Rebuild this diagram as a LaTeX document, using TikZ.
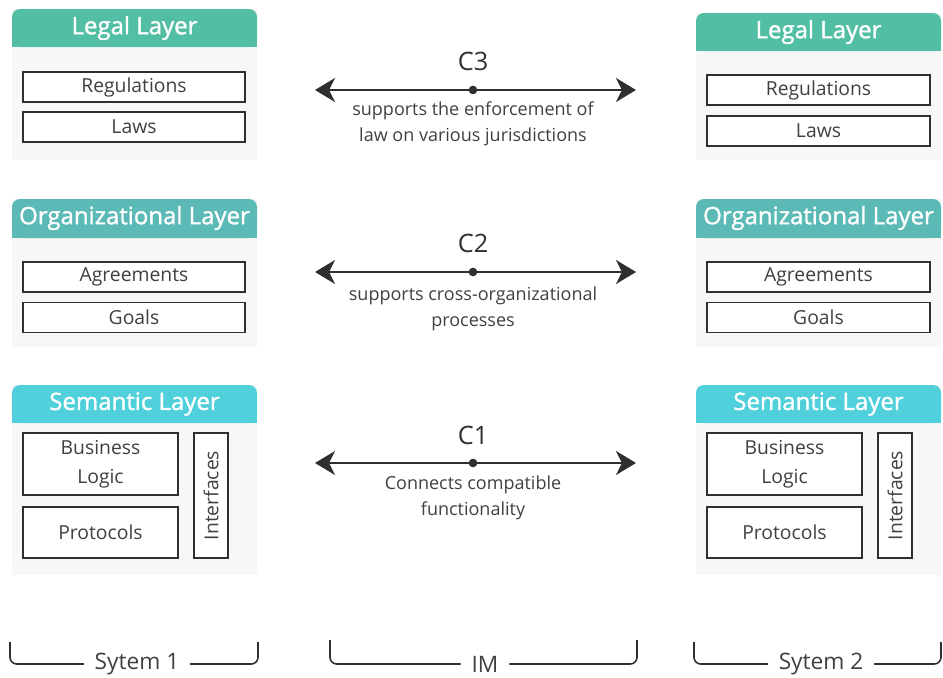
\documentclass[tikz,border=0pt]{standalone}
\usepackage{fontspec}
\setmainfont{Open Sans}
\newfontfamily\headfont{Open Sans}[FakeBold=1.3]
\usetikzlibrary{arrows.meta}

\definecolor{legalc}{HTML}{52BFA4}
\definecolor{orgc}{HTML}{5BBAB6}
\definecolor{semc}{HTML}{50D0DB}
\definecolor{panelc}{HTML}{F7F7F7}
\definecolor{inkc}{HTML}{2F2F2F}
\definecolor{textc}{HTML}{404040}

\tikzset{
	panel/.style={fill=panelc},
	title/.style={text=white, font=\headfont\fontsize{18}{20}\selectfont, inner sep=0pt},
	item/.style={draw=inkc, line width=1.2pt, fill=white, text=textc,
		font=\fontsize{14.5}{18}\selectfont, inner sep=0pt, align=center},
	link/.style={draw=inkc, line width=1.6pt,
		{Stealth[length=15pt,width=18pt,inset=4.5pt]}-{Stealth[length=15pt,width=18pt,inset=4.5pt]}},
	dot/.style={circle, fill=inkc, inner sep=0pt, minimum size=6.5pt},
	clabel/.style={text=inkc, font=\fontsize{19}{22}\selectfont},
	desc/.style={text=textc, font=\fontsize{13.5}{19.5}\selectfont, align=center, inner sep=0pt},
	brace/.style={draw=inkc, line width=1.2pt, rounded corners=5pt},
	sysname/.style={text=textc, font=\fontsize{17}{18}\selectfont, inner xsep=8pt}
}

\begin{document}
\begin{tikzpicture}[x=0.75pt, y=-0.75pt]
	\useasboundingbox (0,0) rectangle (943,678);
	
	% left system
	\fill[panel] (12,9) rectangle (257,160);
	\fill[legalc, rounded corners=6pt] (12,9) rectangle (257,47);
	\fill[legalc] (12,30) rectangle (257,47);
	\node[title] (legal1) at (134.5,28) {Legal Layer};
	\node[item, minimum width=222*0.75pt, minimum height=30*0.75pt] (reg1) at (134,87) {Regulations};
	\node[item, minimum width=222*0.75pt, minimum height=30*0.75pt] (laws1) at (134,127) {Laws};
	
	\fill[panel] (12,199) rectangle (257,347);
	\fill[orgc, rounded corners=6pt] (12,199) rectangle (257,238);
	\fill[orgc] (12,220) rectangle (257,238);
	\node[title] (org1) at (134.5,218) {Organizational Layer};
	\node[item, minimum width=222*0.75pt, minimum height=30*0.75pt] (agr1) at (134,277) {Agreements};
	\node[item, minimum width=222*0.75pt, minimum height=30*0.75pt] (goals1) at (134,317.5) {Goals};
	
	\fill[panel] (12,385) rectangle (257,575);
	\fill[semc, rounded corners=6pt] (12,385) rectangle (257,423);
	\fill[semc] (12,405) rectangle (257,423);
	\node[title] (sem1) at (134.5,404) {Semantic Layer};
	\node[item, minimum width=155*0.75pt, minimum height=62*0.75pt] (logic1) at (100.5,464) {Business\\[4pt]Logic};
	\node[item, minimum width=155*0.75pt, minimum height=51*0.75pt] (prot1) at (100.5,532.5) {Protocols};
	\node[item, minimum width=34*0.75pt, minimum height=125*0.75pt] (int1) at (211,495.5) {};
	\node[text=textc, font=\fontsize{14.5}{18}\selectfont, rotate=90] at (int1.center) {Interfaces};
	
	% right system
	\fill[panel] (696,13) rectangle (941,160);
	\fill[legalc, rounded corners=6pt] (696,13) rectangle (941,51);
	\fill[legalc] (696,34) rectangle (941,51);
	\node[title] (legal2) at (818.5,32) {Legal Layer};
	\node[item, minimum width=223*0.75pt, minimum height=30*0.75pt] (reg2) at (818.5,90) {Regulations};
	\node[item, minimum width=223*0.75pt, minimum height=30*0.75pt] (laws2) at (818.5,131) {Laws};
	
	\fill[panel] (696,199) rectangle (941,347);
	\fill[orgc, rounded corners=6pt] (696,199) rectangle (941,238);
	\fill[orgc] (696,220) rectangle (941,238);
	\node[title] (org2) at (818.5,218) {Organizational Layer};
	\node[item, minimum width=223*0.75pt, minimum height=30*0.75pt] (agr2) at (818.5,277) {Agreements};
	\node[item, minimum width=223*0.75pt, minimum height=30*0.75pt] (goals2) at (818.5,317.5) {Goals};
	
	\fill[panel] (696,385) rectangle (941,575);
	\fill[semc, rounded corners=6pt] (696,385) rectangle (941,423);
	\fill[semc] (696,405) rectangle (941,423);
	\node[title] (sem2) at (818.5,404) {Semantic Layer};
	\node[item, minimum width=155*0.75pt, minimum height=62*0.75pt] (logic2) at (784.5,464) {Business\\[4pt]Logic};
	\node[item, minimum width=155*0.75pt, minimum height=51*0.75pt] (prot2) at (784.5,532.5) {Protocols};
	\node[item, minimum width=34*0.75pt, minimum height=125*0.75pt] (int2) at (895,495.5) {};
	\node[text=textc, font=\fontsize{14.5}{18}\selectfont, rotate=90] at (int2.center) {Interfaces};
	
	% links between the layers
	\coordinate (c3l) at (315,90);
	\coordinate (c3r) at (636,90);
	\draw[link] (c3l) -- (c3r);
	\node[dot] (c3) at (473,90) {};
	\node[clabel] (c3name) at (473,61) {C3};
	\node[desc] (c3text) at (473,124) {supports the enforcement of\\law on various jurisdictions};
	
	\coordinate (c2l) at (315,272);
	\coordinate (c2r) at (636,272);
	\draw[link] (c2l) -- (c2r);
	\node[dot] (c2) at (473,272) {};
	\node[clabel] (c2name) at (473,243) {C2};
	\node[desc] (c2text) at (473,308.5) {supports cross-organizational\\processes};
	
	\coordinate (c1l) at (315,463);
	\coordinate (c1r) at (636,463);
	\draw[link] (c1l) -- (c1r);
	\node[dot] (c1) at (473,463) {};
	\node[clabel] (c1name) at (473,435) {C1};
	\node[desc] (c1text) at (473,498) {Connects compatible\\functionality};
	
	% brackets
	\node[sysname] (sys1) at (137,664) {Sytem 1};
	\coordinate (s1a) at (10,642);
	\coordinate (s1b) at (258,642);
	\draw[brace] (s1a) |- (sys1.west);
	\draw[brace] (sys1.east) -| (s1b);
	
	\node[sysname] (im) at (485,664) {IM};
	\coordinate (ima) at (330,640);
	\coordinate (imb) at (637,640);
	\draw[brace] (ima) |- (im.west);
	\draw[brace] (im.east) -| (imb);
	
	\node[sysname] (sys2) at (821,664) {Sytem 2};
	\coordinate (s2a) at (694,642);
	\coordinate (s2b) at (941,642);
	\draw[brace] (s2a) |- (sys2.west);
	\draw[brace] (sys2.east) -| (s2b);
\end{tikzpicture}
\end{document}
